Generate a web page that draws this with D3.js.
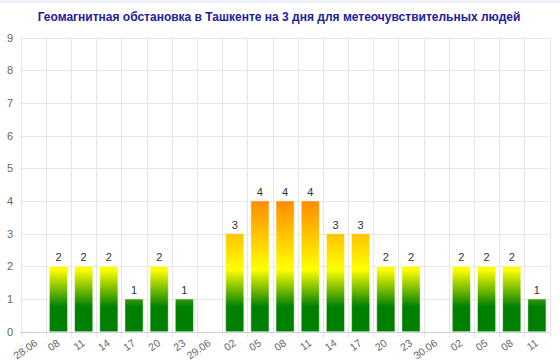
<!DOCTYPE html>
<html><head><meta charset="utf-8">
<script src="https://cdn.jsdelivr.net/npm/d3@7"></script>
<style>html,body{margin:0;padding:0;background:#fff;}svg{display:block;font-family:"Liberation Sans",Arial,sans-serif;}</style>
</head><body>
<svg id="c" width="560" height="361"></svg>
<script>
const title = "Геомагнитная обстановка в Ташкенте на 3 дня для метеочувствительных людей";
const categories = ["28.06","08","11","14","17","20","23","29.06","02","05","08","11","14","17","20","23","30.06","02","05","08","11"];
const values = [null,2,2,2,1,2,1,null,3,4,4,4,3,3,2,2,null,2,2,2,1];
const yTicks = [0,1,2,3,4,5,6,7,8,9];

(function(){
const svg = d3.select("#c");
const W = 560, H = 361;
const pL = 20.7, pR = 549.5, pT = 37.5, pB = 331.7;

svg.append("rect").attr("x",0).attr("y",0).attr("width",W).attr("height",3).attr("fill","#eef0fa");

svg.append("text").attr("x",279).attr("y",20.5).attr("text-anchor","middle")
  .attr("font-size",12).attr("font-weight","bold").attr("fill","#20209c").text(title);

const x = d3.scaleBand().domain(d3.range(categories.length)).range([pL,pR]).paddingInner(0.28).paddingOuter(0.14);
const xb = d3.scaleBand().domain(d3.range(categories.length)).range([pL,pR]);
const y = d3.scaleLinear().domain([0,9]).range([pB,pT]);

const defs = svg.append("defs");
const g = defs.append("linearGradient").attr("id","kp").attr("gradientUnits","userSpaceOnUse")
  .attr("x1",0).attr("x2",0).attr("y1",y(0)).attr("y2",y(4));
[[0,"#008000"],[0.19,"#008000"],[0.475,"#ffff00"],[1,"#ff8c00"]].forEach(s=>
  g.append("stop").attr("offset",s[0]).attr("stop-color",s[1]));

svg.append("g").selectAll("line").data(yTicks.filter(d=>d>0)).join("line")
  .attr("x1",pL).attr("x2",pR).attr("y1",d=>Math.round(y(d))+0.5).attr("y2",d=>Math.round(y(d))+0.5)
  .attr("stroke","#e6e6e6");
const bounds = d3.range(categories.length+1).map(i=> i<categories.length ? xb(i) : pR);
svg.append("g").selectAll("line").data(bounds).join("line")
  .attr("x1",d=>Math.round(d)+0.5).attr("x2",d=>Math.round(d)+0.5).attr("y1",pT).attr("y2",pB+6)
  .attr("stroke","#e6e6e6");

svg.append("line").attr("x1",pL).attr("x2",pR).attr("y1",Math.round(pB)+0.5).attr("y2",Math.round(pB)+0.5)
  .attr("stroke","#ccd0d8");

svg.append("g").selectAll("text").data(yTicks).join("text")
  .attr("x",13).attr("y",d=>y(d)+4).attr("text-anchor","end").attr("font-size",11).attr("fill","#666").text(d=>d);

const idx = d3.range(categories.length).filter(i=>values[i]!=null);
svg.append("g").selectAll("rect").data(idx).join("rect")
  .attr("x",i=>x(i)).attr("width",x.bandwidth()).attr("y",i=>y(values[i])).attr("height",i=>y(0)-y(values[i]))
  .attr("fill","url(#kp)").attr("stroke","#ffffff").attr("stroke-opacity",0.45).attr("stroke-width",1);

svg.append("g").selectAll("text").data(idx).join("text")
  .attr("x",i=>x(i)+x.bandwidth()/2).attr("y",i=>y(values[i])-5).attr("text-anchor","middle")
  .attr("font-size",11).attr("fill","#333").text(i=>values[i]);

const ang = -35, ly = pB + 13;
const xl = svg.append("g").selectAll("text").data(d3.range(categories.length)).join("text")
  .attr("text-anchor","end").attr("font-size",10.5).attr("fill","#666")
  .attr("transform",i=>`translate(${xb(i)+xb.bandwidth()/2+2},${ly}) rotate(${ang})`)
  .text(i=>categories[i]);
xl.each(function(i){
  const r = this.getBoundingClientRect();
  const cx = xb(i)+xb.bandwidth()/2+2;
  if (r.left < 11) {
    d3.select(this).attr("transform",`translate(${cx + (11 - r.left)},${ly}) rotate(${ang})`);
  }
});
})();
</script>
</body></html>
